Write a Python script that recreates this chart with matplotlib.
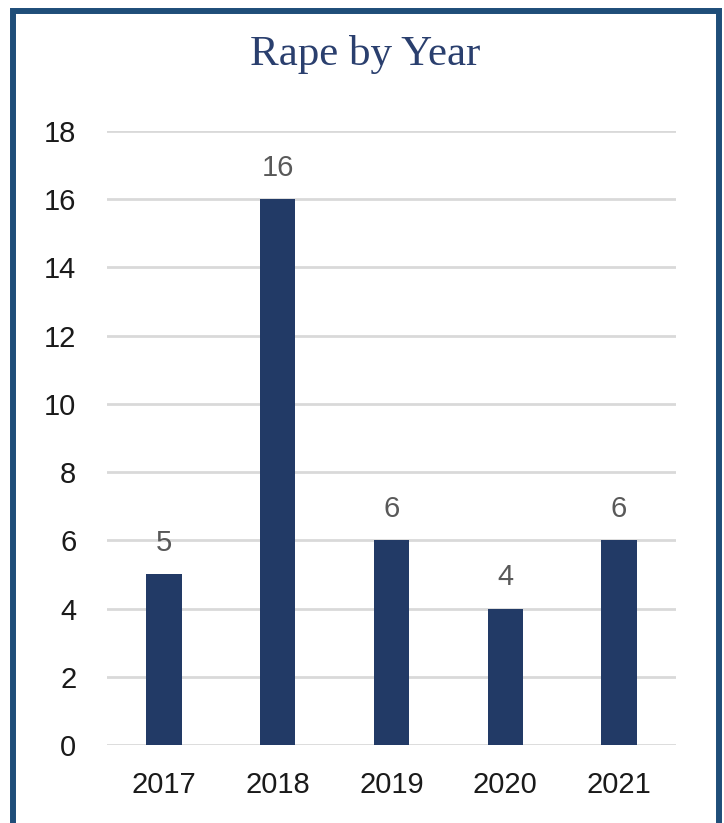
import matplotlib
matplotlib.use("Agg")
import matplotlib.pyplot as plt
from matplotlib.patches import Rectangle

# data
years = ["2017", "2018", "2019", "2020", "2021"]
counts = [5, 16, 6, 4, 6]
yticks = [0, 2, 4, 6, 8, 10, 12, 14, 16, 18]

BAR = "#223a66"
GRID = "#d9d9d9"
LABEL = "#595959"
TITLE = "#2a3f6e"
BORDER = "#1f4e79"

fig = plt.figure(figsize=(7.24, 8.23), dpi=100)
ax = fig.add_axes([0.1478, 0.0948, 0.7859, 0.746])

x = range(len(years))
bars = ax.bar(x, counts, width=0.31, color=BAR, zorder=3)

for b, v in zip(bars, counts):
    ax.annotate(str(v), (b.get_x() + b.get_width() / 2, v),
                xytext=(0, 17), textcoords="offset points",
                ha="center", va="baseline", fontsize=21,
                color=LABEL, family="Liberation Sans")

ax.set_xlim(-0.5, len(years) - 0.5)
ax.set_ylim(0, 18)
ax.set_yticks(yticks)
ax.set_xticks(list(x))
ax.set_xticklabels(years)
ax.yaxis.grid(True, color=GRID, linewidth=2.0, zorder=0)
ax.set_axisbelow(True)
for s in ax.spines.values():
    s.set_visible(False)
ax.tick_params(axis="both", length=0, labelsize=21, labelcolor="#1a1a1a")
ax.tick_params(axis="y", pad=22)
ax.tick_params(axis="x", pad=19)
for lab in ax.get_xticklabels() + ax.get_yticklabels():
    lab.set_family("Liberation Sans")

fig.text(0.504, 0.934, "Rape by Year", ha="center", va="center",
         fontsize=31, color=TITLE, family="Liberation Serif")

# frame round the chart (bottom edge runs off the image)
fig.patches.append(Rectangle((13 / 724, -0.05), (718.5 - 13) / 724, 1.05 - 11 / 823,
                             transform=fig.transFigure, fill=False,
                             edgecolor=BORDER, linewidth=4.3))

fig.savefig("out.png", dpi=100)
